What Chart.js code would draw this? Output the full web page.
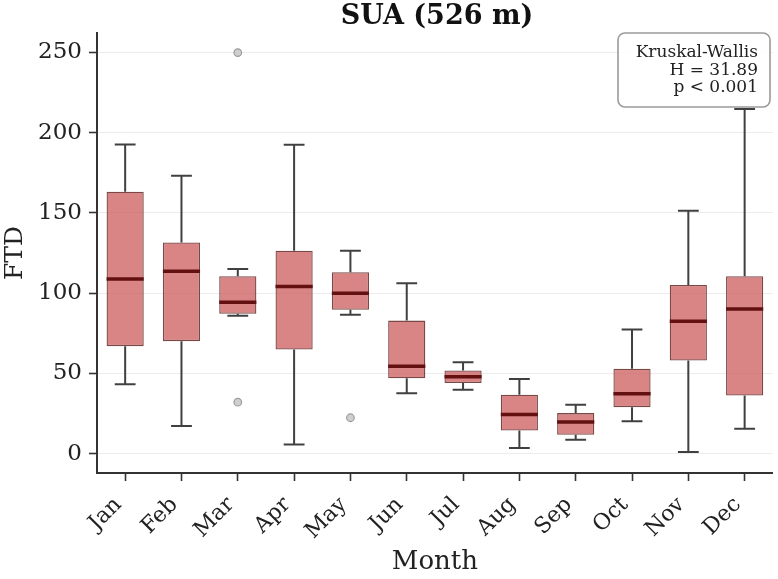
<!DOCTYPE html>
<html>
<head>
<meta charset="utf-8">
<script src="https://cdn.jsdelivr.net/npm/chart.js@4/dist/chart.umd.min.js"></script>
<style>
    html, body { margin: 0; padding: 0; background: #fff; }
    #wrap { width: 778px; height: 579px; }
</style>
</head>
<body>
<div id="wrap"><canvas id="ftdChart" width="778" height="579"></canvas></div>
<script>
// monthly FTD distribution
const months = ['Jan', 'Feb', 'Mar', 'Apr', 'May', 'Jun', 'Jul', 'Aug', 'Sep', 'Oct', 'Nov', 'Dec'];
const q1 = [67.0, 70.1, 87.1, 64.9, 89.7, 47.0, 44.0, 14.5, 11.8, 29.0, 58.0, 36.3];
const q3 = [163.1, 131.6, 110.5, 126.4, 113.0, 82.9, 51.8, 36.7, 25.3, 52.9, 105.1, 110.5];
const medians = [108.8, 113.6, 94.3, 104.1, 99.9, 54.5, 47.9, 24.4, 19.7, 37.3, 82.5, 90.2];
const whiskerLow = [43.3, 17.2, 86.0, 5.8, 86.6, 37.7, 39.8, 3.5, 8.7, 20.3, 1.0, 15.5];
const whiskerHigh = [192.6, 173.1, 115.0, 192.4, 126.4, 106.1, 57.0, 46.6, 30.5, 77.3, 151.3, 214.6];
const outlierMonths = ['Mar', 'Mar', 'May'];
const outlierValues = [249.8, 32.1, 22.4];
const yTicks = [0, 50, 100, 150, 200, 250];

const statLines = ['Kruskal-Wallis', 'H = 31.89', 'p < 0.001'];
const titleText = 'SUA (526 m)';

const serif = "'DejaVu Serif', serif";

// whiskers, caps and medians drawn over the floating bars
const boxParts = {
    id: 'boxParts',
    beforeDatasetsDraw(chart) {
        const ctx = chart.ctx;
        const y = chart.scales.y;
        const bars = chart.getDatasetMeta(0).data;
        ctx.save();
        ctx.strokeStyle = '#404040';
        ctx.lineWidth = 2;
        bars.forEach((bar, i) => {
            const half = bar.width * 0.28;
            const yLo = y.getPixelForValue(whiskerLow[i]);
            const yHi = y.getPixelForValue(whiskerHigh[i]);
            ctx.beginPath();
            ctx.moveTo(bar.x, y.getPixelForValue(q1[i]));
            ctx.lineTo(bar.x, yLo);
            ctx.moveTo(bar.x, y.getPixelForValue(q3[i]));
            ctx.lineTo(bar.x, yHi);
            ctx.moveTo(bar.x - half, yLo);
            ctx.lineTo(bar.x + half, yLo);
            ctx.moveTo(bar.x - half, yHi);
            ctx.lineTo(bar.x + half, yHi);
            ctx.stroke();
        });
        ctx.restore();
    },
    afterDatasetsDraw(chart) {
        const ctx = chart.ctx;
        const y = chart.scales.y;
        const bars = chart.getDatasetMeta(0).data;
        ctx.save();
        ctx.strokeStyle = '#621010';
        ctx.lineWidth = 3.5;
        bars.forEach((bar, i) => {
            const ym = y.getPixelForValue(medians[i]);
            ctx.beginPath();
            ctx.moveTo(bar.x - bar.width / 2, ym);
            ctx.lineTo(bar.x + bar.width / 2, ym);
            ctx.stroke();
        });
        ctx.restore();
    },
    afterDraw(chart) {
        const ctx = chart.ctx;
        ctx.save();
        // title
        ctx.fillStyle = '#111';
        ctx.font = 'bold 27px ' + serif;
        ctx.textAlign = 'center';
        ctx.textBaseline = 'alphabetic';
        ctx.fillText(titleText, 437, 24);

        // stats box
        const bx = 618, by = 33, bw = 152, bh = 74;
        ctx.beginPath();
        ctx.roundRect(bx, by, bw, bh, 7);
        ctx.fillStyle = 'rgba(255,255,255,0.9)';
        ctx.fill();
        ctx.strokeStyle = '#9a9a9a';
        ctx.lineWidth = 1.6;
        ctx.stroke();
        ctx.fillStyle = '#222';
        ctx.font = '17px ' + serif;
        ctx.textAlign = 'right';
        statLines.forEach((line, i) => {
            ctx.fillText(line, 758, 57 + i * 17.5);
        });
        ctx.restore();
    }
};

const ctx = document.getElementById('ftdChart').getContext('2d');
new Chart(ctx, {
    data: {
        labels: months,
        datasets: [{
            type: 'bar',
            data: months.map((m, i) => [q1[i], q3[i]]),
            backgroundColor: 'rgba(205,92,92,0.75)',
            borderColor: 'rgba(100,40,40,0.85)',
            borderWidth: 1.3,
            borderSkipped: false,
            categoryPercentage: 1,
            barPercentage: 0.66
        }, {
            type: 'scatter',
            data: outlierMonths.map((m, i) => ({ x: m, y: outlierValues[i] })),
            pointRadius: 3.8,
            pointBackgroundColor: '#cfcfcf',
            pointBorderColor: '#9c9c9c',
            pointBorderWidth: 1.2
        }]
    },
    options: {
        responsive: false,
        animation: false,
        events: [],
        layout: {
            padding: { top: 33, right: 2, left: 0, bottom: 0 }
        },
        plugins: {
            legend: { display: false },
            tooltip: { enabled: false }
        },
        scales: {
            x: {
                type: 'category',
                offset: true,
                afterFit: scale => {
                    scale.height = 106;
                    scale.paddingLeft = 0;
                    scale.paddingRight = 0;
                },
                grid: {
                    offset: false,
                    drawOnChartArea: false,
                    drawTicks: true,
                    tickLength: 8,
                    tickColor: '#333',
                    tickWidth: 1.6
                },
                border: { color: '#333', width: 2 },
                ticks: {
                    autoSkip: false,
                    maxRotation: 45,
                    minRotation: 45,
                    padding: 11,
                    labelOffset: -7,
                    color: '#222',
                    font: { family: serif, size: 22 }
                },
                title: {
                    display: true,
                    text: 'Month',
                    color: '#222',
                    padding: { top: 0, bottom: 1 },
                    font: { family: serif, size: 26 }
                }
            },
            y: {
                min: -12,
                max: 262,
                afterFit: scale => { scale.width = 97; },
                afterBuildTicks: scale => {
                    scale.ticks = yTicks.map(v => ({ value: v }));
                },
                grid: {
                    color: '#ececec',
                    lineWidth: 1,
                    drawTicks: true,
                    tickLength: 8,
                    tickColor: '#333',
                    tickWidth: 1.6
                },
                border: { color: '#333', width: 2 },
                ticks: {
                    padding: 7,
                    color: '#222',
                    font: { family: serif, size: 23 }
                },
                title: {
                    display: true,
                    text: 'FTD',
                    color: '#222',
                    padding: { top: 0, bottom: 0 },
                    font: { family: serif, size: 25 }
                }
            }
        }
    },
    plugins: [boxParts]
});
</script>
</body>
</html>
